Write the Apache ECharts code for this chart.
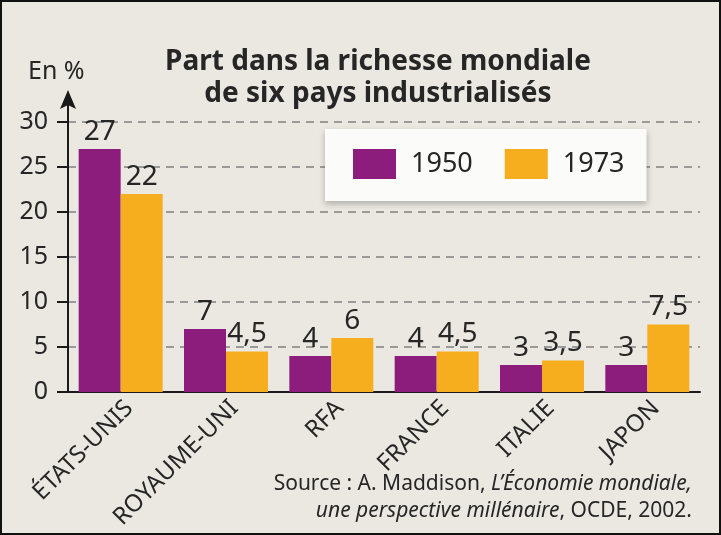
<!DOCTYPE html>
<html><head><meta charset="utf-8">
<script src="https://cdn.jsdelivr.net/npm/echarts@6/dist/echarts.min.js"></script>
<style>html,body{margin:0;padding:0;background:#ebe9e4}#c{width:721px;height:535px}</style>
</head><body><div id="c"></div>
<script>
const categories = ['ÉTATS-UNIS', 'ROYAUME-UNI', 'RFA', 'FRANCE', 'ITALIE', 'JAPON'];
const values1950 = [27, 7, 4, 4, 3, 3];
const values1973 = [22, 4.5, 6, 4.5, 3.5, 7.5];
const seriesNames = ['1950', '1973'];
const yMin = 0, yMax = 30, yStep = 5;

const FONT = '"Noto Sans", "Open Sans", sans-serif';
const TXT = '#262626';
const GRID_LEFT = 68;
const fmt = v => String(v).replace('.', ',');

const chart = echarts.init(document.getElementById('c'), null, {renderer: 'canvas'});
const option = {
  backgroundColor: '#ebe8e2',
  animation: false,
  textStyle: {fontFamily: FONT, color: TXT},
  title: [
    {text: 'Part dans la richesse mondiale\nde six pays industrialisés', left: 373, textAlign: 'center', top: 41,
     textStyle: {fontFamily: FONT, fontSize: 28, fontWeight: 'bold', lineHeight: 32, color: TXT}},
    {text: '{n|Source : A. Maddison, }{i|L\u2019Économie mondiale,}\n{i|une perspective millénaire}{n|, OCDE, 2002.}',
     right: 24, top: 466,
     textStyle: {fontFamily: FONT, fontWeight: 'normal', rich: {
       n: {fontFamily: FONT, fontSize: 21, fontWeight: 'normal', lineHeight: 27, color: TXT, align: 'right'},
       i: {fontFamily: FONT, fontSize: 21, fontWeight: 'normal', lineHeight: 27, color: TXT, fontStyle: 'italic', align: 'right'}}}}
  ],
  legend: {
    data: seriesNames, left: 325, top: 129, icon: 'rect', itemWidth: 43, itemHeight: 30, itemGap: 32,
    padding: [20, 22, 22, 28], backgroundColor: '#fbfbf9',
    shadowColor: 'rgba(0,0,0,0.25)', shadowBlur: 6, shadowOffsetY: 3,
    textStyle: {fontFamily: FONT, fontSize: 27, color: TXT, padding: [0, 0, 0, 10]}
  },
  grid: {left: GRID_LEFT, right: 21, top: 122, bottom: 143, containLabel: false},
  xAxis: {
    type: 'category', data: categories,
    axisLine: {lineStyle: {color: '#1a1a1a', width: 2}},
    axisTick: {show: false},
    axisLabel: {interval: 0, rotate: 45, verticalAlign: 'top', fontFamily: FONT, fontSize: 24, color: TXT, margin: 4}
  },
  yAxis: {
    type: 'value', min: yMin, max: yMax, interval: yStep,
    axisLine: {show: true, lineStyle: {color: '#1a1a1a', width: 2}},
    axisTick: {show: true, length: 11, lineStyle: {color: '#1a1a1a', width: 2}},
    axisLabel: {fontFamily: FONT, fontSize: 25, color: TXT, margin: 20},
    splitLine: {lineStyle: {type: [8, 6], color: '#808080', width: 1.5}}
  },
  series: [
    {type: 'bar', name: seriesNames[0], data: values1950, barWidth: 42, barGap: '0%',
     itemStyle: {color: '#8c1d7c'},
     label: {show: true, position: 'top', distance: 3, fontFamily: FONT, fontSize: 28, color: TXT, formatter: p => fmt(p.value)}},
    {type: 'bar', name: seriesNames[1], data: values1973, barWidth: 42, barGap: '0%',
     itemStyle: {color: '#f6ad1e'},
     label: {show: true, position: 'top', distance: 3, fontFamily: FONT, fontSize: 28, color: TXT, formatter: p => fmt(p.value)}}
  ]
};
chart.setOption(option);

// Decorations: axis arrow, unit label, frame
const axisTop = chart.convertToPixel({yAxisIndex: 0}, yMax);
const axisX = GRID_LEFT;
chart.setOption({
  graphic: [
    {type: 'line', shape: {x1: axisX, y1: axisTop, x2: axisX, y2: axisTop - 18}, style: {stroke: '#1a1a1a', lineWidth: 2}},
    {type: 'polygon', shape: {points: [[axisX, axisTop - 32], [axisX - 8, axisTop - 13], [axisX, axisTop - 17], [axisX + 8, axisTop - 13]]}, style: {fill: '#1a1a1a'}},
    {type: 'text', left: 28, top: 59, style: {text: 'En %', fontFamily: FONT, fontSize: 25, fill: TXT}},
    {type: 'rect', shape: {x: 1, y: 1, width: 719, height: 533}, style: {fill: 'none', stroke: '#111', lineWidth: 2}, silent: true}
  ]
});
</script></body></html>
